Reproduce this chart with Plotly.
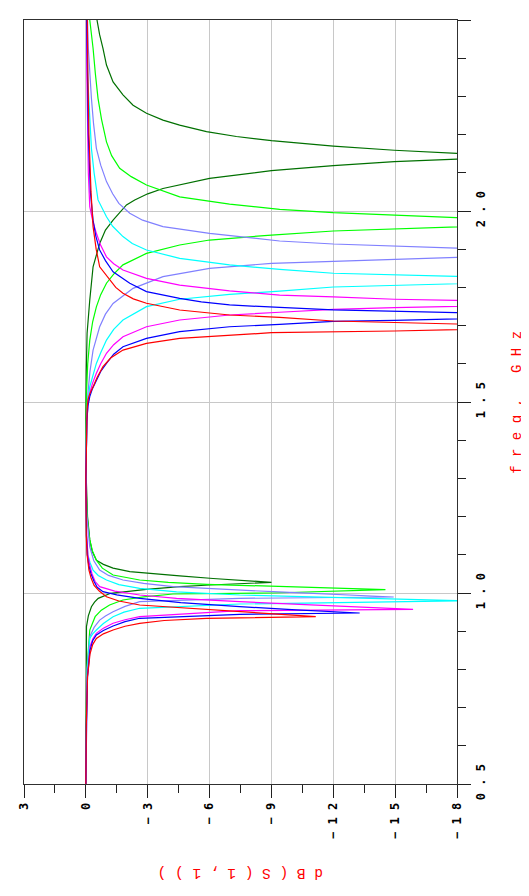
import plotly.graph_objects as go

# ---------------- data (freq in GHz, dB(S(1,1))) ----------------
red_f = [0.5, 0.65, 0.78, 0.84, 0.865, 0.881, 0.893, 0.903, 0.913, 0.9207, 0.928, 0.9338, 0.938, 0.9445, 0.951, 0.96,
         0.9686, 0.979, 0.9903, 1.005, 1.02, 1.04, 1.06, 1.1, 1.15, 1.3, 1.45, 1.48, 1.505, 1.52, 1.540, 1.565, 1.5924,
         1.615, 1.636, 1.6536, 1.6667, 1.6754, 1.6814, 1.6859, 1.690, 1.697, 1.7042, 1.7076, 1.712, 1.7217, 1.7277,
         1.7408, 1.7584, 1.77, 1.7845, 1.8, 1.8194, 1.854, 1.9, 1.959, 2.05, 2.2, 2.35, 2.5]
red_db = [0, -0.02, -0.08, -0.2, -0.33, -0.51, -0.85, -1.32, -1.9, -2.61, -3.8, -5.85, -11.15, -9.3, -7.46, -4.6,
          -2.61, -1.6, -1.0, -0.65, -0.4, -0.25, -0.15, -0.06, -0.02, 0, -0.03, -0.06, -0.1, -0.18, -0.35, -0.55, -0.83,
          -1.2, -1.8, -2.94, -4.55, -6.97, -9.0, -14.96, -17.97, -25, -17.97, -14.96, -12.0, -9.4, -6.97,
          -4.55, -2.94, -2.3, -1.8, -1.45, -1.16, -0.67, -0.5, -0.35, -0.25, -0.15, -0.1, -0.07]

blue_f = [0.5, 0.65, 0.78, 0.85, 0.875, 0.89, 0.902, 0.9136, 0.925, 0.9338, 0.9442, 0.9476, 0.956, 0.9642, 0.975,
          0.986, 0.995, 1.0034, 1.015, 1.03, 1.05, 1.07, 1.1, 1.15, 1.3, 1.45, 1.49, 1.514, 1.535, 1.5576, 1.58, 1.601,
          1.625, 1.6448, 1.6667, 1.684, 1.697, 1.7033, 1.7112, 1.7139, 1.717, 1.7254, 1.7338, 1.7374, 1.741, 1.7475,
          1.754, 1.762, 1.7715, 1.789, 1.811, 1.841, 1.87, 1.898, 1.935, 1.976, 2.05, 2.2, 2.35, 2.5]
blue_db = [0, -0.02, -0.08, -0.2, -0.33, -0.51, -0.85, -1.32, -1.9, -2.61, -7.46, -13.28, -10.2, -7.46, -4.6,
           -2.61, -1.5, -0.83, -0.55, -0.4, -0.25, -0.15, -0.07, -0.03, 0, -0.05, -0.1, -0.19, -0.32, -0.51, -0.72, -1.0,
           -1.35, -1.8, -2.94, -4.55, -6.97, -9.4, -12.0, -14.96, -17.97, -25, -17.97, -14.96, -12.0, -9.4,
           -6.97, -5.6, -4.55, -2.94, -2.13, -1.32, -0.95, -0.67, -0.48, -0.35, -0.22, -0.12, -0.07, -0.04]

magenta_f = [0.5, 0.65, 0.78, 0.86, 0.88, 0.8945, 0.908, 0.9207, 0.93, 0.938, 0.9537, 0.9573, 0.967, 0.9773, 0.986,
             0.9948, 1.005, 1.0165, 1.03, 1.05, 1.075, 1.1, 1.15, 1.3, 1.45, 1.49, 1.523, 1.55, 1.5751, 1.60, 1.6275,
             1.65, 1.671, 1.697, 1.7147, 1.7277, 1.735, 1.7427, 1.747, 1.7495, 1.758, 1.766, 1.769, 1.775, 1.780, 1.791,
             1.806, 1.8238, 1.8455, 1.862, 1.880, 1.91, 1.9416, 1.975, 2.011, 2.1, 2.2, 2.35, 2.5]
magenta_db = [0, -0.02, -0.07, -0.2, -0.34, -0.51, -0.85, -1.32, -1.9, -2.61, -7.46, -15.87, -11.5, -7.46, -4.4,
              -2.61, -1.4, -0.67, -0.45, -0.3, -0.18, -0.1, -0.04, 0, -0.05, -0.1, -0.19, -0.33, -0.51, -0.72, -1.0,
              -1.35, -1.8, -2.94, -4.55, -6.97, -9.4, -12.0, -14.96, -17.97, -25, -17.97, -14.96, -12.0, -9.4, -6.97,
              -4.55, -2.94, -1.8, -1.35, -1.0, -0.72, -0.51, -0.33, -0.19, -0.12, -0.08, -0.05, -0.03]

cyan_f = [0.5, 0.65, 0.8, 0.881, 0.893, 0.903, 0.92, 0.938, 0.95, 0.960, 0.9712, 0.9795, 0.987, 0.9948, 1.003, 1.0123,
          1.022, 1.034, 1.046, 1.06, 1.08, 1.1, 1.15, 1.3, 1.45, 1.5, 1.540, 1.57, 1.601, 1.63, 1.662, 1.69, 1.7147,
          1.7495, 1.769, 1.782, 1.790, 1.801, 1.8055, 1.810, 1.8195, 1.829, 1.8325, 1.837, 1.847, 1.859, 1.876, 1.898,
          1.915, 1.933, 1.96, 1.985, 2.029, 2.1, 2.164, 2.25, 2.338, 2.5]
cyan_db = [0, -0.02, -0.07, -0.19, -0.33, -0.51, -0.85, -1.32, -1.85, -2.61, -7.46, -18.3, -12.5, -7.46, -4.4, -2.61,
           -1.6, -1.0, -0.6, -0.35, -0.2, -0.1, -0.03, 0, -0.05, -0.1, -0.19, -0.33, -0.51, -0.73, -1.0, -1.35, -1.8,
           -2.94, -4.55, -6.97, -9.4, -12.0, -14.96, -17.97, -25, -17.97, -14.96, -12.0, -9.4, -6.97, -4.55, -2.94,
           -2.25, -1.8, -1.3, -1.0, -0.59, -0.4, -0.27, -0.17, -0.1, -0.05]

purple_f = [0.5, 0.65, 0.8, 0.886, 0.91, 0.929, 0.94, 0.951, 0.965, 0.9773, 0.986, 0.9895, 0.996, 1.0034, 1.0165, 1.025,
            1.034, 1.046, 1.06, 1.085, 1.121, 1.2, 1.3, 1.45, 1.523, 1.58, 1.636, 1.668, 1.697, 1.73, 1.758, 1.7976,
            1.828, 1.850, 1.863, 1.868, 1.8735, 1.8796, 1.891, 1.903, 1.9084, 1.9136, 1.9215, 1.9416, 1.959, 1.976,
            1.994, 2.02, 2.045, 2.077, 2.12, 2.164, 2.23, 2.295, 2.426, 2.5]
purple_db = [0, -0.02, -0.06, -0.19, -0.4, -0.67, -0.95, -1.32, -1.9, -2.61, -7.46, -14.93, -12.0, -9.08, -4.23, -2.8,
             -1.8, -1.1, -0.67, -0.38, -0.19, -0.05, 0, -0.03, -0.1, -0.2, -0.35, -0.5, -0.67, -0.95, -1.32, -2.29,
             -3.74, -6.0, -9.0, -12.0, -14.96, -17.97, -25, -17.97, -14.96, -12.0, -9.4, -6.0, -3.74, -2.75,
             -2.13, -1.6, -1.3, -1.0, -0.72, -0.51, -0.37, -0.27, -0.12, -0.08]

green_f = [0.5, 0.65, 0.8, 0.903, 0.92, 0.938, 0.955, 0.9686, 0.9817, 0.99, 0.9974, 1.0, 1.0087, 1.0123, 1.0165, 1.0228,
           1.028, 1.034, 1.047, 1.065, 1.086, 1.11, 1.139, 1.2, 1.3, 1.45, 1.523, 1.6, 1.662, 1.71, 1.749, 1.781, 1.811,
           1.835, 1.859, 1.889, 1.911, 1.924, 1.937, 1.9476, 1.953, 1.960, 1.971, 1.9825, 1.9895, 1.9956, 2.0045, 2.018,
           2.037, 2.068, 2.09, 2.112, 2.145, 2.181, 2.24, 2.295, 2.36, 2.426, 2.5]
green_db = [0, -0.02, -0.05, -0.19, -0.3, -0.45, -0.75, -1.15, -1.8, -2.8, -4.23, -9.08, -14.53, -12.3, -9.08, -5.85,
            -4.0, -2.61, -1.32, -0.8, -0.51, -0.32, -0.19, -0.06, 0, -0.01, -0.03, -0.09, -0.19, -0.33, -0.51, -0.72, -1.0,
            -1.35, -1.8, -2.94, -4.55, -6.0, -9.0, -12.0, -14.96, -18.0, -25, -17.97, -14.96, -12.0, -9.4, -6.97,
            -4.55, -2.94, -2.2, -1.64, -1.25, -1.0, -0.76, -0.59, -0.46, -0.35, -0.19]

dkgreen_f = [0.5, 0.7, 0.85, 0.912, 0.94, 0.964, 0.976, 0.986, 0.9992, 1.0097, 1.0165, 1.0209, 1.028, 1.032, 1.038, 1.045,
             1.052, 1.056, 1.065, 1.075, 1.086, 1.11, 1.139, 1.2, 1.3, 1.45, 1.58, 1.68, 1.767, 1.854, 1.915, 1.95, 1.976,
             2.0, 2.016, 2.029, 2.045, 2.059, 2.0856, 2.1055, 2.119, 2.129, 2.136, 2.1435, 2.151, 2.159, 2.170, 2.184,
             2.195, 2.208, 2.225, 2.238, 2.256, 2.277, 2.304, 2.338, 2.382, 2.426, 2.461, 2.5]
dkgreen_db = [0, -0.01, -0.02, -0.03, -0.12, -0.27, -0.42, -0.6, -1.2, -2.94, -4.55, -6.0, -9.0, -7.79, -6.17, -4.55,
              -2.94, -2.13, -1.32, -0.85, -0.51, -0.3, -0.19, -0.08, -0.02, 0, -0.02, -0.06, -0.19, -0.35, -0.67, -0.95,
              -1.32, -1.7, -1.97, -2.37, -3.0, -3.74, -6.0, -9.0, -12.0, -14.96, -18.0, -25, -18.0, -14.96, -12.0, -9.0,
              -7.3, -5.85, -4.55, -3.74, -2.94, -2.29, -1.8, -1.32, -1.0, -0.83, -0.67, -0.54]

series = [
    ("dkgreen", dkgreen_f, dkgreen_db, "#007000"),
    ("green", green_f, green_db, "#00ff00"),
    ("purple", purple_f, purple_db, "#8080ff"),
    ("cyan", cyan_f, cyan_db, "#00ffff"),
    ("magenta", magenta_f, magenta_db, "#ff00ff"),
    ("blue", blue_f, blue_db, "#0000ff"),
    ("red", red_f, red_db, "#ff0000"),
]
for name, f, db, _ in series:
    assert len(f) == len(db), (name, len(f), len(db))

db_ticks = [3, 0, -3, -6, -9, -12, -15, -18]
db_labels = ["3", "0", "\u2212 3", "\u2212 6", "\u2212 9", "\u2212 1 2", "\u2212 1 5", "\u2212 1 8"]
f_ticks = [0.5, 1.0, 1.5, 2.0, 2.5]
f_labels = ["0 . 5", "1 . 0", "1 . 5", "2 . 0", "2 . 5"]

fig = go.Figure()
for name, f, db, col in series:
    fig.add_trace(go.Scatter(x=db, y=f, mode="lines", name=name,
                             line=dict(color=col, width=1.2)))

tickfont = dict(family="DejaVu Sans Mono", size=12, color="black")
# the page body adds an 8px offset, so the figure is 8px smaller on each axis
fig.update_layout(
    width=521, height=888,
    margin=dict(l=16, r=72, t=12, b=112),
    paper_bgcolor="white", plot_bgcolor="white",
    showlegend=False,
    xaxis=dict(range=[3, -18], tickmode="array", tickvals=db_ticks, automargin=False,
               ticktext=["<b>%s</b>" % t for t in db_labels], tickangle=-90,
               ticks="outside", ticklen=13, tickcolor="#202020", tickwidth=1,
               minor=dict(dtick=1.5, tick0=0, ticks="outside", ticklen=8, tickcolor="#202020", showgrid=False),
               showgrid=True, gridcolor="#c8c8c8", gridwidth=1, zeroline=False,
               showline=True, linecolor="#303030", linewidth=1, mirror=True,
               tickfont=tickfont),
    yaxis=dict(range=[0.5, 2.5], side="right", tickmode="array", tickvals=f_ticks, automargin=False,
               ticktext=["<b>%s</b>" % t for t in f_labels], tickangle=-90,
               ticks="outside", ticklen=13, tickcolor="#202020", tickwidth=1,
               minor=dict(dtick=0.1, tick0=0.5, ticks="outside", ticklen=8, tickcolor="#202020", showgrid=False),
               showgrid=True, gridcolor="#c8c8c8", gridwidth=1, zeroline=False,
               showline=True, linecolor="#303030", linewidth=1, mirror=True,
               tickfont=tickfont),
    annotations=[
        dict(text="f r e q ,   G H z", xref="paper", yref="paper", x=1.138, y=0.5,
             textangle=-90, showarrow=False, xanchor="center", yanchor="middle",
             font=dict(family="Liberation Mono", size=14, color="red")),
        dict(text="d B ( S ( 1 , 1 ) )", xref="paper", yref="paper", x=0.5, y=-0.1165,
             textangle=180, showarrow=False, xanchor="center", yanchor="middle",
             font=dict(family="Liberation Mono", size=14.5, color="red")),
    ],
)

fig.write_html("out.html")
